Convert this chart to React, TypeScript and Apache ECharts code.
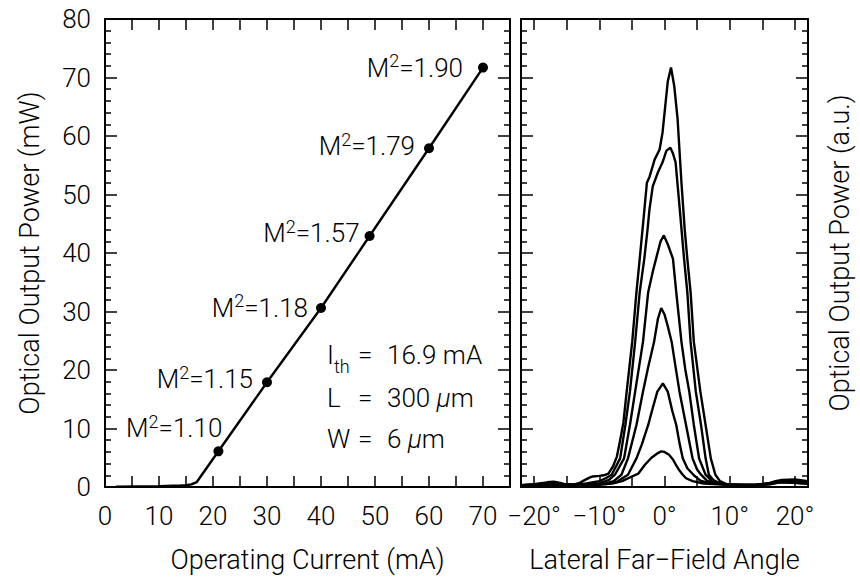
import React, { useEffect, useRef } from "react";
import * as echarts from "echarts";

// ---------- data ----------
const liCurrent = [2, 6, 10, 14, 15, 16, 17, 21, 30, 40, 49, 60, 70];
const liPower = [0.05, 0.1, 0.15, 0.25, 0.3, 0.45, 0.85, 6.1, 17.9, 30.6, 42.9, 57.9, 71.7];

const m2Current = [21, 30, 40, 49, 60, 70];
const m2Power = [6.1, 17.9, 30.6, 42.9, 57.9, 71.7];
const m2Values = ["1.10", "1.15", "1.18", "1.57", "1.79", "1.90"];

const xTickLabels = [0, 10, 20, 30, 40, 50, 60, 70];
const angleTicks = [-20, -15, -10, -5, 0, 5, 10, 15, 20];
const angleLabels = [-20, -10, 0, 10, 20];

// far-field profiles [angle (deg), power (a.u.)]
const profile72 = [[-22,0.3],[-20,0.5],[-18,0.8],[-17,0.9],[-16,0.7],[-15,0.4],[-14,0.4],[-13,0.7],[-12.4,1.1],[-11.5,1.6],[-11,1.8],[-10,1.9],[-9.3,2.0],[-8.6,2.3],[-7.9,3.5],[-7.3,5.2],[-6.8,8],[-6.3,11],[-5.8,16.3],[-4.95,24.8],[-4.3,33.3],[-3.8,39],[-3.2,46],[-2.7,52],[-2.3,53],[-1.5,56],[-0.75,57.7],[-0.3,60.6],[0.5,69.3],[1,71.7],[1.5,68.5],[2,63],[2.6,52],[3.1,44],[3.5,39],[4.0,33.3],[4.5,24.8],[5.5,16.3],[6.3,10.6],[7.1,4.9],[7.8,2.1],[8.5,1.0],[9.5,0.5],[12,0.3],[15,0.4],[16,0.6],[17,1.0],[18,1.2],[20,1.3],[22,1.0]];
const profile58 = [[-22,0.3],[-18,0.6],[-14,0.4],[-12,0.6],[-10,1.0],[-9,1.5],[-8.1,2.1],[-6.8,4.9],[-6.0,10.6],[-5.3,16.3],[-4.5,24.8],[-3.8,33.3],[-3.1,39],[-2.6,44],[-2.3,47.5],[-1.8,51.4],[-1,53.8],[-0.3,55.5],[0.3,57.5],[0.9,58],[1.3,57],[1.7,55.5],[2.3,48],[3.0,39],[3.5,33.3],[4.0,24.8],[4.8,16.3],[5.6,10.6],[6.3,4.9],[6.8,2.1],[7.5,1.2],[8.5,0.6],[10,0.4],[14,0.4],[17,0.8],[19,1.1],[22,0.8]];
const profile43 = [[-22,0.2],[-16,0.4],[-12,0.4],[-10,0.6],[-8.5,1.2],[-7.6,2.1],[-6.2,4.9],[-5.3,10.6],[-4.5,16.3],[-3.3,24.8],[-2.5,33.3],[-1.8,36.8],[-1.3,39],[-0.6,42],[-0.1,43],[0.5,41.5],[1.3,39],[1.8,33.3],[2.6,24.8],[3.2,20],[3.8,16.3],[4.5,10.6],[5.3,4.9],[6.3,2.1],[7.3,1.0],[9,0.5],[12,0.3],[16,0.4],[18,0.9],[20,1.0],[22,0.7]];
const profile31 = [[-22,0.2],[-16,0.4],[-12,0.4],[-9,0.6],[-7.8,1.0],[-6.6,2.1],[-5.6,4.9],[-4.3,10.6],[-3.3,16.3],[-2.5,20.5],[-1.6,24.8],[-1,28.8],[-0.5,30.6],[0,29.5],[0.5,27.5],[1.1,24.8],[1.7,20.5],[2.3,16.3],[3.3,10.6],[4.3,4.9],[5.0,3.0],[5.6,2.1],[6.5,1.1],[8,0.6],[10,0.4],[14,0.3],[18,0.9],[22,0.6]];
const profile18 = [[-22,0.2],[-16,0.4],[-12,0.3],[-9,0.5],[-7.3,0.9],[-5.6,2.1],[-4.3,4.9],[-3.5,7.2],[-2.5,10.6],[-1.8,13.5],[-1.1,16.3],[-0.25,17.7],[0.5,16.3],[1.2,13],[1.8,10.6],[2.3,7.5],[2.8,4.9],[3.5,3.2],[4.5,2.0],[5.5,1.1],[7,0.6],[10,0.4],[14,0.3],[18,0.9],[22,0.6]];
const profile6 = [[-22,0.2],[-18,0.4],[-14,0.3],[-10,0.4],[-8,0.6],[-6.5,1.0],[-5,1.8],[-4,2.3],[-3,3.8],[-2,5.0],[-1,5.8],[-0.5,6.1],[0,6.0],[0.7,5.5],[1.3,4.7],[1.8,3.7],[2.3,2.8],[2.8,2.1],[3.3,1.5],[4.3,1.0],[6,0.6],[9,0.4],[14,0.3],[18,0.8],[22,0.6]];
const profiles = [profile72, profile58, profile43, profile31, profile18, profile6];

const annotationNames = ["{i|I}{sub|th}", "{i|L}", "{i|W}"];
const annotationValues = ["{i|16.9 mA}", "{i|300 }{mu|μ}{i|m}", "{i|6 }{mu|μ}{i|m}"];

// ---------- layout / style ----------
const FONT = "Roboto, 'Liberation Sans', sans-serif";
const FW = 300;
const FS = 26;
const NAME_FS = 27;
const labelDistance = [0, 9, 8, 5, 9, 15];
const labelOffset = [[9, -23], [0, -3], [0, 0], [0, -3], [0, -2], [0, 0]];
const annotationRowY = [355, 398, 439];

const textBase = { fontFamily: FONT, fontWeight: FW, fontSize: FS, color: "#000" };
const nameBase = { fontFamily: FONT, fontWeight: FW, fontSize: NAME_FS, color: "#000" };
const lineStyle = { color: "#000", width: 2 };
const curveStyle = { color: "#000", width: 2.4 };
const tickStyle = { color: "#000", width: 1.5 };

function xAxisDef(grid: number, pos: "top" | "bottom", extra: any) {
  return {
    type: "value",
    gridIndex: grid,
    position: pos,
    axisLine: { show: true, onZero: false, lineStyle },
    axisTick: { show: true, inside: true, length: 11, lineStyle: tickStyle },
    axisLabel: { show: false },
    splitLine: { show: false },
    ...extra,
  };
}

function yAxisDef(grid: number, pos: "left" | "right", extra: any) {
  return {
    type: "value",
    gridIndex: grid,
    position: pos,
    min: 0,
    max: 80,
    interval: 10,
    axisLine: { show: true, onZero: false, lineStyle },
    axisTick: { show: true, inside: true, length: 12, lineStyle: tickStyle },
    minorTick: { show: true, splitNumber: 5, length: 6, lineStyle: tickStyle },
    axisLabel: { show: false },
    splitLine: { show: false },
    ...extra,
  };
}

const angleFmt = (v: number) => (v < 0 ? "\u2212" + Math.abs(v) + "°" : v + "°");

const option: any = {
  animation: false,
  backgroundColor: "#fff",
  grid: [
    { left: 105, top: 19, width: 405, height: 470 },
    { left: 521, top: 19, width: 287, height: 470 },
  ],
  xAxis: [
    xAxisDef(0, "bottom", {
      min: 0,
      max: 75,
      interval: 5,
      axisLabel: {
        show: true,
        ...textBase,
        margin: 16,
        formatter: (v: number) => (xTickLabels.indexOf(v) >= 0 ? String(v) : ""),
      },
      name: "Operating Current (mA)",
      nameLocation: "middle",
      nameGap: 59,
      nameTextStyle: nameBase,
    }),
    xAxisDef(0, "top", { min: 0, max: 75, interval: 5 }),
    xAxisDef(1, "bottom", {
      min: -22,
      max: 22,
      axisTick: { show: true, inside: true, length: 11, lineStyle: tickStyle, customValues: angleTicks },
      axisLabel: { show: true, ...textBase, margin: 16, customValues: angleLabels, formatter: angleFmt },
      name: "Lateral Far\u2212Field Angle",
      nameLocation: "middle",
      nameGap: 59,
      nameTextStyle: nameBase,
    }),
    xAxisDef(1, "top", {
      min: -22,
      max: 22,
      axisTick: { show: true, inside: true, length: 11, lineStyle: tickStyle, customValues: angleTicks },
    }),
  ],
  yAxis: [
    yAxisDef(0, "left", {
      axisLabel: { show: true, ...textBase, margin: 14 },
      name: "Optical Output Power (mW)",
      nameLocation: "middle",
      nameRotate: 90,
      nameGap: 62,
      nameTextStyle: nameBase,
    }),
    yAxisDef(0, "right", {}),
    yAxisDef(1, "left", {}),
    yAxisDef(1, "right", {
      name: "Optical Output Power (a.u.)",
      nameLocation: "middle",
      nameRotate: 90,
      nameGap: 18,
      nameTextStyle: nameBase,
    }),
  ],
  series: [
    {
      type: "line",
      xAxisIndex: 0,
      yAxisIndex: 0,
      data: liCurrent.map((c, i) => [c, liPower[i]]),
      showSymbol: false,
      lineStyle: curveStyle,
      z: 2,
    },
    {
      type: "scatter",
      xAxisIndex: 0,
      yAxisIndex: 0,
      symbolSize: 10,
      itemStyle: { color: "#000", opacity: 1 },
      z: 3,
      data: m2Current.map((c, i) => ({
        value: [c, m2Power[i]],
        label: { position: "left", distance: labelDistance[i], offset: labelOffset[i] },
      })),
      label: {
        show: true,
        formatter: (p: any) => `{m|M}{s|2}{m|=${m2Values[p.dataIndex]}}`,
        rich: {
          m: { ...textBase, lineHeight: 32 },
          s: { ...textBase, fontSize: 18, lineHeight: 16, verticalAlign: "top" },
        },
      },
    },
    ...profiles.map((prof) => ({
      type: "line",
      xAxisIndex: 2,
      yAxisIndex: 2,
      data: prof,
      showSymbol: false,
      lineStyle: curveStyle,
    })),
  ],
  graphic: [
    ...annotationNames.map((t, i) => ({
      type: "text",
      x: 327,
      y: annotationRowY[i],
      style: {
        text: t,
        align: "left",
        verticalAlign: "middle",
        rich: {
          i: { fontFamily: FONT, fontWeight: FW, fontSize: FS, fill: "#000", lineHeight: 40 },
          sub: { fontFamily: FONT, fontWeight: FW, fontSize: 18, fill: "#000", lineHeight: 16, verticalAlign: "bottom" },
        },
      },
    })),
    ...annotationNames.map((_, i) => ({
      type: "text",
      x: 358,
      y: annotationRowY[i],
      style: {
        text: "=",
        align: "left",
        verticalAlign: "middle",
        fontFamily: FONT,
        fontWeight: FW,
        fontSize: FS,
        fill: "#000",
      },
    })),
    ...annotationValues.map((t, i) => ({
      type: "text",
      x: 387,
      y: annotationRowY[i],
      style: {
        text: t,
        align: "left",
        verticalAlign: "middle",
        rich: {
          i: { fontFamily: FONT, fontWeight: FW, fontSize: FS, fill: "#000", lineHeight: 30 },
          mu: { fontFamily: FONT, fontWeight: FW, fontSize: FS, fontStyle: "italic", fill: "#000", lineHeight: 30 },
        },
      },
    })),
  ],
};

export default function App() {
  const ref = useRef<HTMLDivElement>(null);
  useEffect(() => {
    const chart = echarts.init(ref.current!, null, { renderer: "svg" });
    chart.setOption(option);
    return () => chart.dispose();
  }, []);
  return (
    <div
      ref={ref}
      style={{ position: "absolute", left: 0, top: 0, width: 860, height: 578 }}
    />
  );
}
